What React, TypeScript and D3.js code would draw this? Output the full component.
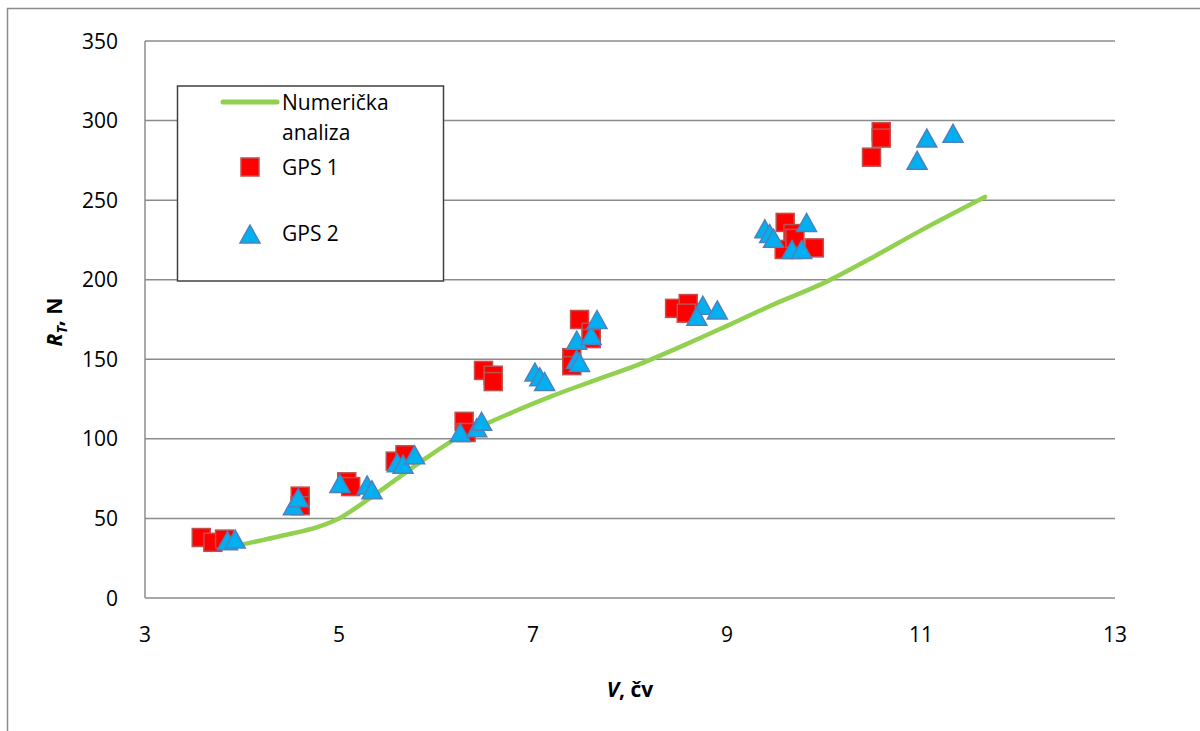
import React from "react";
import * as d3 from "d3";

// Numerička analiza (line)
const lineV = [3.95, 4.4, 4.8, 5.0, 5.3, 5.6, 5.9, 6.2, 6.5, 6.8, 7.2, 7.6, 8.1, 8.6, 9.0, 9.5, 10.0, 10.5, 11.0, 11.66];
const lineR = [33, 39, 45, 50, 62, 75, 88, 100, 109, 117, 127, 136, 147, 160, 171, 185, 198, 214, 231, 252];

// GPS 1 (squares)
const gps1V = [3.58, 3.7, 3.82, 4.6, 4.6, 5.08, 5.12, 5.58, 5.68, 6.29, 6.31, 6.49, 6.59, 6.59, 7.48, 7.6, 7.6, 7.4, 7.4, 8.46, 8.6, 8.58, 9.6, 9.68, 9.59, 9.7, 9.9, 10.59, 10.59, 10.49];
const gps1R = [38, 35, 37, 64, 58, 73, 70, 86, 90, 111, 104, 143, 140, 136, 175, 167, 163, 151, 146, 182, 185, 179, 236, 229, 219, 226, 220, 293, 289, 277];

// GPS 2 (triangles)
const gps2V = [3.85, 3.93, 4.53, 4.58, 5.01, 5.29, 5.34, 5.6, 5.66, 5.78, 6.25, 6.42, 6.47, 7.02, 7.07, 7.12, 7.45, 7.6, 7.66, 7.45, 7.48, 8.75, 8.69, 8.9, 9.39, 9.44, 9.48, 9.82, 9.67, 9.77, 11.06, 10.96, 11.33];
const gps2R = [36, 37, 58, 63, 72, 71, 68, 85, 84, 90, 104, 107, 111, 142, 139, 136, 162, 165, 175, 150, 148, 184, 177, 181, 232, 229, 226, 236, 219, 219, 289, 275, 292];

const xTicks = [3, 5, 7, 9, 11, 13];
const yTicks = [0, 50, 100, 150, 200, 250, 300, 350];

const FONT = "'Open Sans', sans-serif";

export default function App() {
  const W = 1200;
  const H = 731;
  const x = d3.scaleLinear().domain([3, 13]).range([145, 1115]);
  const y = d3.scaleLinear().domain([0, 350]).range([598, 41]);

  const linePts: [number, number][] = lineV.map((v, i) => [v, lineR[i]]);
  const lineGen = d3
    .line<[number, number]>()
    .x((d) => x(d[0]))
    .y((d) => y(d[1]))
    .curve(d3.curveMonotoneX);

  const sq = 18;
  const triPath = (cx: number, cy: number, w = 20, h = 18) =>
    `M${cx},${cy - h / 2}L${cx + w / 2},${cy + h / 2}L${cx - w / 2},${cy + h / 2}Z`;

  const gridColor = "#8c8c8c";

  return (
    <svg width={W} height={H} style={{ display: "block", position: "absolute", left: 0, top: 0 }}>
      <rect x={0} y={0} width={W} height={H} fill="#fff" />
      <rect x={7.5} y={8.5} width={1220} height={760} fill="#fff" stroke="#8c8c8c" strokeWidth={1.5} />

      {/* gridlines */}
      {yTicks.map((t) => (
        <line key={"g" + t} x1={x(3)} x2={x(13)} y1={y(t)} y2={y(t)} stroke={gridColor} strokeWidth={1.5} />
      ))}
      <line x1={x(3)} x2={x(3)} y1={y(0)} y2={y(350)} stroke={gridColor} strokeWidth={1.5} />

      {/* y tick labels */}
      {yTicks.map((t) => (
        <text key={"yl" + t} x={118} y={y(t)} dy="0.36em" textAnchor="end" fontFamily={FONT} fontSize={21} fill="#000">
          {t}
        </text>
      ))}
      {/* x tick labels */}
      {xTicks.map((t) => (
        <text key={"xl" + t} x={x(t)} y={642} textAnchor="middle" fontFamily={FONT} fontSize={21} fill="#000">
          {t}
        </text>
      ))}

      {/* axis titles */}
      <text x={630} y={697} textAnchor="middle" fontFamily={FONT} fontSize={21} fontWeight="bold" fill="#000">
        <tspan fontStyle="italic">V</tspan>, čv
      </text>
      <text
        transform="translate(62,322) rotate(-90)"
        textAnchor="middle"
        fontFamily={FONT}
        fontSize={21}
        fontWeight="bold"
        fill="#000"
      >
        <tspan fontStyle="italic">R</tspan>
        <tspan fontStyle="italic" fontSize={14} dy={5}>T</tspan>
        <tspan dy={-5}>, N</tspan>
      </text>

      {/* line */}
      <path d={lineGen(linePts) || ""} fill="none" stroke="#92d050" strokeWidth={4.5} strokeLinecap="round" strokeLinejoin="round" />

      {/* GPS 1 squares */}
      {gps1V.map((v, i) => (
        <rect
          key={"s" + i}
          x={x(v) - sq / 2}
          y={y(gps1R[i]) - sq / 2}
          width={sq}
          height={sq}
          fill="#ff0000"
          stroke="#c0504d"
          strokeWidth={1.5}
        />
      ))}

      {/* GPS 2 triangles */}
      {gps2V.map((v, i) => (
        <path key={"t" + i} d={triPath(x(v), y(gps2R[i]))} fill="#00b0f0" stroke="#4f81bd" strokeWidth={1.5} strokeLinejoin="miter" />
      ))}

      {/* legend */}
      <rect x={177.5} y={86} width={266} height={195} fill="#fff" stroke="#404040" strokeWidth={1.5} />
      <line x1={223} x2={277} y1={102} y2={102} stroke="#92d050" strokeWidth={5} strokeLinecap="round" />
      <text x={282} y={110} fontFamily={FONT} fontSize={21} fill="#000">Numerička</text>
      <text x={282} y={140} fontFamily={FONT} fontSize={21} fill="#000">analiza</text>
      <rect x={250 - sq / 2} y={167 - sq / 2} width={sq} height={sq} fill="#ff0000" stroke="#c0504d" strokeWidth={1.5} />
      <text x={282} y={175} fontFamily={FONT} fontSize={21} fill="#000">GPS 1</text>
      <path d={triPath(250, 234)} fill="#00b0f0" stroke="#4f81bd" strokeWidth={1.5} />
      <text x={282} y={241} fontFamily={FONT} fontSize={21} fill="#000">GPS 2</text>
    </svg>
  );
}
